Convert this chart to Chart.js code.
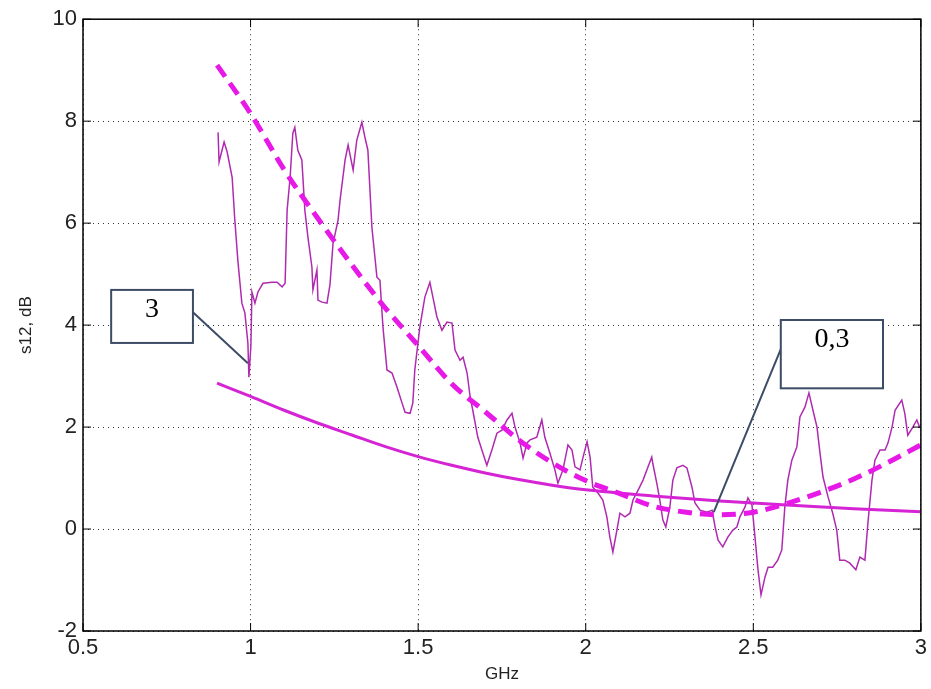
<!DOCTYPE html>
<html>
<head>
<meta charset="utf-8">
<script src="https://cdn.jsdelivr.net/npm/chart.js@4.4.1/dist/chart.umd.min.js"></script>
<style>
	html, body { margin: 0; padding: 0; background: #fff; }
	canvas { display: block; }
</style>
</head>
<body>
<canvas id="chart" width="931" height="689"></canvas>
<script>
"use strict"

// measured s12 (noisy trace)
const freqNoisy = [0.903, 0.906, 0.921, 0.930, 0.945, 0.953, 0.962, 0.974, 0.983, 0.992, 0.995, 1.001, 1.004, 1.013, 1.022, 1.037, 1.064, 1.079, 1.094, 1.103, 1.109, 1.118, 1.126, 1.132, 1.141, 1.153, 1.162, 1.171, 1.183, 1.186, 1.198, 1.201, 1.213, 1.228, 1.237, 1.246, 1.261, 1.267, 1.282, 1.291, 1.306, 1.317, 1.332, 1.341, 1.350, 1.362, 1.377, 1.386, 1.395, 1.407, 1.422, 1.437, 1.452, 1.461, 1.476, 1.484, 1.490, 1.505, 1.520, 1.535, 1.544, 1.556, 1.571, 1.586, 1.601, 1.610, 1.625, 1.634, 1.646, 1.655, 1.663, 1.678, 1.693, 1.705, 1.720, 1.735, 1.750, 1.765, 1.780, 1.789, 1.804, 1.813, 1.825, 1.834, 1.854, 1.869, 1.878, 1.893, 1.908, 1.917, 1.932, 1.947, 1.959, 1.968, 1.983, 1.992, 2.004, 2.013, 2.021, 2.036, 2.051, 2.063, 2.072, 2.081, 2.093, 2.102, 2.117, 2.132, 2.141, 2.156, 2.171, 2.186, 2.197, 2.200, 2.212, 2.221, 2.230, 2.239, 2.251, 2.260, 2.272, 2.290, 2.302, 2.317, 2.326, 2.341, 2.362, 2.377, 2.386, 2.395, 2.409, 2.424, 2.439, 2.451, 2.460, 2.475, 2.484, 2.496, 2.505, 2.514, 2.523, 2.535, 2.544, 2.558, 2.573, 2.585, 2.594, 2.603, 2.615, 2.630, 2.639, 2.654, 2.666, 2.678, 2.690, 2.699, 2.708, 2.723, 2.737, 2.749, 2.758, 2.773, 2.788, 2.806, 2.818, 2.833, 2.842, 2.854, 2.863, 2.878, 2.893, 2.902, 2.914, 2.923, 2.943, 2.952, 2.961, 2.976, 2.988, 2.997];
const s12Noisy = [7.78, 7.20, 7.59, 7.40, 6.90, 6.06, 5.27, 4.43, 4.24, 3.65, 2.98, 3.60, 4.65, 4.43, 4.65, 4.82, 4.84, 4.84, 4.75, 4.82, 6.25, 6.90, 7.76, 7.88, 7.43, 7.24, 6.25, 5.73, 5.14, 4.69, 5.08, 4.49, 4.45, 4.43, 4.80, 5.60, 6.06, 6.45, 7.24, 7.53, 7.04, 7.63, 7.98, 7.69, 7.43, 5.92, 4.94, 4.88, 3.96, 3.12, 3.06, 2.78, 2.47, 2.29, 2.27, 2.47, 3.12, 3.96, 4.55, 4.84, 4.55, 4.16, 3.90, 4.06, 4.04, 3.51, 3.31, 3.37, 3.06, 2.60, 2.33, 1.80, 1.49, 1.25, 1.55, 1.88, 1.94, 2.14, 2.27, 2.00, 1.69, 1.39, 1.69, 1.75, 1.80, 2.14, 1.80, 1.49, 1.16, 0.90, 1.16, 1.65, 1.55, 1.22, 1.16, 1.41, 1.71, 1.41, 0.82, 0.71, 0.57, 0.24, -0.16, -0.45, -0.02, 0.31, 0.24, 0.31, 0.57, 0.76, 0.96, 1.22, 1.41, 1.29, 0.90, 0.57, 0.18, 0.04, 0.43, 0.96, 1.20, 1.25, 1.20, 0.82, 0.51, 0.37, 0.33, 0.37, 0.04, -0.22, -0.35, -0.16, -0.02, 0.04, 0.24, 0.43, 0.61, 0.47, -0.16, -0.80, -1.29, -0.94, -0.75, -0.75, -0.61, -0.41, 0.43, 0.96, 1.35, 1.61, 2.20, 2.39, 2.67, 2.33, 2.00, 1.49, 1.02, 0.63, 0.31, -0.02, -0.61, -0.61, -0.67, -0.80, -0.55, -0.61, 0.12, 0.96, 1.35, 1.55, 1.55, 1.69, 2.00, 2.33, 2.53, 2.27, 1.84, 2.00, 2.14, 1.98];

// dashed fit
const freqFit = [0.9, 1.0, 1.1, 1.2, 1.3, 1.4, 1.5, 1.6, 1.7, 1.8, 1.9, 2.0, 2.1, 2.2, 2.3, 2.4, 2.5, 2.6, 2.7, 2.8, 2.9, 3.0];
const s12Fit = [9.1, 8.15, 7.05, 6.1, 5.2, 4.35, 3.6, 2.85, 2.3, 1.75, 1.3, 0.95, 0.7, 0.45, 0.33, 0.28, 0.33, 0.5, 0.72, 0.98, 1.3, 1.65];

// solid model curve
const freqModel = [0.9, 1.0, 1.1, 1.2, 1.3, 1.4, 1.5, 1.6, 1.7, 1.8, 1.9, 2.0, 2.2, 2.4, 2.6, 2.8, 3.0];
const s12Model = [2.86, 2.6, 2.33, 2.08, 1.85, 1.62, 1.42, 1.25, 1.1, 0.97, 0.86, 0.77, 0.65, 0.55, 0.47, 0.4, 0.34];

const xTicks = [0.5, 1, 1.5, 2, 2.5, 3];
const yTicks = [-2, 0, 2, 4, 6, 8, 10];

const toPoints = (xs, ys) => xs.map((x, i) => ({x: x, y: ys[i]}));

// callout boxes, in data units
const callouts = [
	{text: '3', box: [0.584, 4.69, 0.828, 3.65], from: [0.828, 4.25], to: [0.992, 3.25]},
	{text: '0,3', box: [2.582, 4.10, 2.887, 2.76], from: [2.582, 3.53], to: [2.382, 0.33]}
];

// рамка осей и засечки внутрь, как в matlab
const framePlugin = {
	id: 'frame',
	afterDatasetsDraw(chart) {
		const {ctx, chartArea: a, scales} = chart;
		ctx.save();
		ctx.strokeStyle = '#000';
		ctx.lineWidth = 1.5;
		ctx.strokeRect(a.left, a.top, a.right - a.left, a.bottom - a.top);
		ctx.lineWidth = 1;
		ctx.beginPath();
		xTicks.forEach(v => {
			const px = scales.x.getPixelForValue(v);
			ctx.moveTo(px, a.bottom); ctx.lineTo(px, a.bottom - 8);
			ctx.moveTo(px, a.top); ctx.lineTo(px, a.top + 8);
		});
		yTicks.forEach(v => {
			const py = scales.y.getPixelForValue(v);
			ctx.moveTo(a.left, py); ctx.lineTo(a.left + 8, py);
			ctx.moveTo(a.right, py); ctx.lineTo(a.right - 8, py);
		});
		ctx.stroke();
		ctx.restore();
	}
};

const calloutPlugin = {
	id: 'callouts',
	afterDraw(chart) {
		const {ctx, scales} = chart;
		const X = v => scales.x.getPixelForValue(v);
		const Y = v => scales.y.getPixelForValue(v);
		ctx.save();
		callouts.forEach(c => {
			const x0 = X(c.box[0]), y0 = Y(c.box[1]), x1 = X(c.box[2]), y1 = Y(c.box[3]);
			ctx.strokeStyle = '#3d4c66';
			ctx.lineWidth = 2;
			ctx.beginPath();
			ctx.moveTo(X(c.from[0]), Y(c.from[1]));
			ctx.lineTo(X(c.to[0]), Y(c.to[1]));
			ctx.stroke();
			ctx.fillStyle = '#fff';
			ctx.fillRect(x0, y0, x1 - x0, y1 - y0);
			ctx.strokeRect(x0, y0, x1 - x0, y1 - y0);
			ctx.fillStyle = '#000';
			ctx.font = '28px "Liberation Serif"';
			ctx.textAlign = 'center';
			ctx.textBaseline = 'top';
			ctx.fillText(c.text, (x0 + x1) / 2, y0 + 6);
		});
		ctx.restore();
	}
};

const tickFont = {family: 'Liberation Sans', size: 22};
const titleFont = {family: 'Liberation Sans', size: 17};

new Chart(
	document.getElementById('chart'),
	{
		type: 'line',
		data: {
			datasets: [
				{
					label: 'measured',
					data: toPoints(freqNoisy, s12Noisy),
					borderColor: '#b02ab0',
					borderWidth: 1.5,
					pointRadius: 0,
					tension: 0,
					order: 3
				},
				{
					label: 'model',
					data: toPoints(freqModel, s12Model),
					borderColor: '#d424d4',
					borderWidth: 3,
					pointRadius: 0,
					cubicInterpolationMode: 'monotone',
					order: 2
				},
				{
					label: 'fit',
					data: toPoints(freqFit, s12Fit),
					borderColor: '#e619e6',
					borderWidth: 5,
					borderDash: [14, 8],
					pointRadius: 0,
					cubicInterpolationMode: 'monotone',
					order: 1
				}
			]
		},
		options: {
			responsive: false,
			animation: false,
			layout: {padding: {top: 19, right: 10, left: 0, bottom: 0}},
			plugins: {
				legend: {display: false},
				tooltip: {enabled: false}
			},
			scales: {
				x: {
					type: 'linear',
					min: 0.5,
					max: 3,
					afterFit: s => { s.height = 58; },
					afterBuildTicks: s => { s.ticks = xTicks.map(v => ({value: v})); },
					ticks: {font: tickFont, color: '#222', padding: 4, callback: v => String(v)},
					grid: {color: '#333', lineWidth: 1, drawTicks: false},
					border: {display: false, dash: [1, 4]},
					title: {display: true, text: 'GHz', color: '#222', font: titleFont, padding: {top: 0, bottom: 4}}
				},
				y: {
					min: -2,
					max: 10,
					afterFit: s => { s.width = 83; },
					afterBuildTicks: s => { s.ticks = yTicks.map(v => ({value: v})); },
					ticks: {font: tickFont, color: '#222', padding: 6, callback: v => String(v)},
					grid: {color: '#333', lineWidth: 1, drawTicks: false},
					border: {display: false, dash: [1, 4]},
					title: {display: true, text: 's12, dB', color: '#222', font: titleFont, padding: {top: 16, bottom: 0}}
				}
			}
		},
		plugins: [framePlugin, calloutPlugin]
	}
);
</script>
</body>
</html>
